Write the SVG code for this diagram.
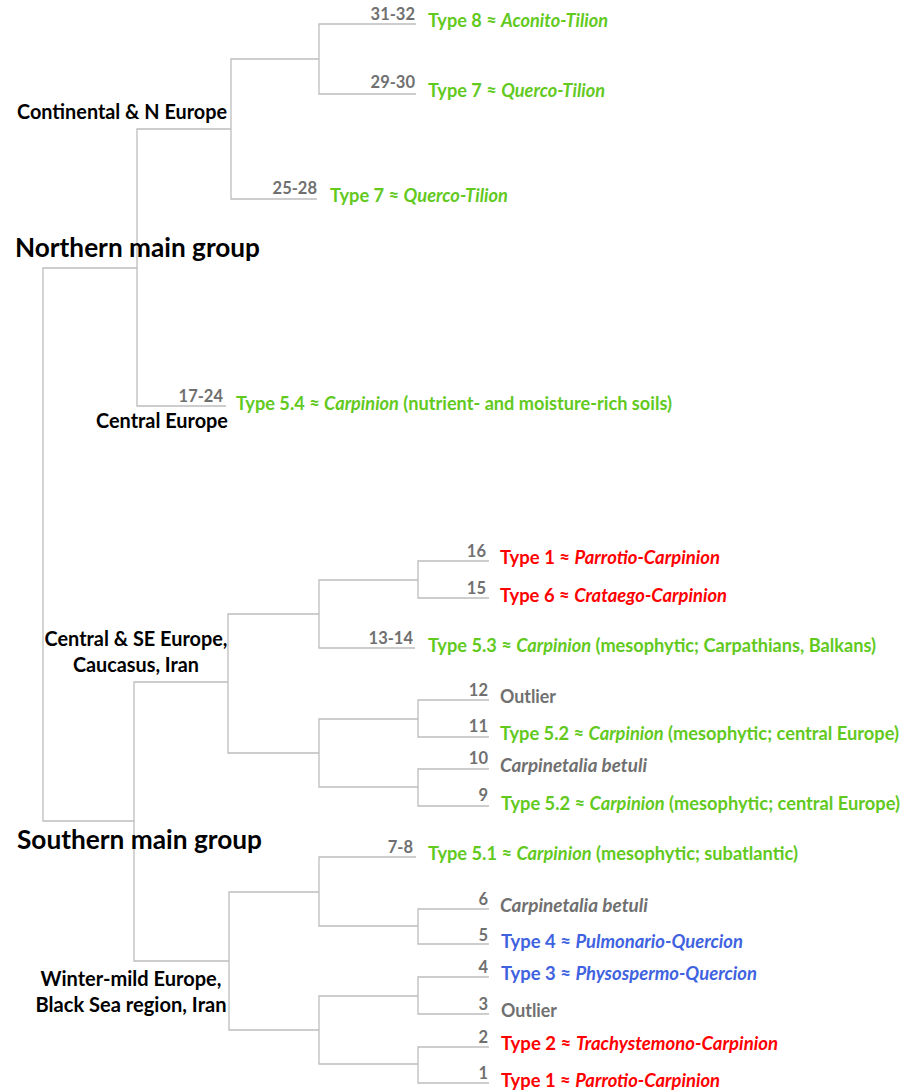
<svg xmlns="http://www.w3.org/2000/svg" width="914" height="1092" viewBox="0 0 914 1092">
<style>
text{font-family:Lato,"Liberation Sans",sans-serif;font-weight:bold}
.grp{font-size:20px;fill:#000}
.main{font-size:26px;fill:#000}
.num{font-size:16.5px;fill:#707070;text-anchor:end}
.lab{font-size:18px}
.g{fill:#62C91E}
.r{fill:#FF0000}
.b{fill:#3F63E0}
.o{fill:#707070}
.i{font-style:italic}
.tree{fill:none;stroke:#BDBDBD;stroke-width:1.3}
</style>
<rect width="914" height="1092" fill="#fff"/>
<g id="connectors" class="tree">
<path d="M416,24 H319 V94 H416"/>
<path d="M319,59 H231 V199 H317"/>
<path d="M231,129 H137 V406 H226"/>
<path d="M137,268 H43 V821 H134"/>
<path d="M228,682 H134 V961 H229"/>
<path d="M319,614 H228 V753 H319"/>
<path d="M418,580 H319 V648 H415"/>
<path d="M489,561 H418 V598 H489"/>
<path d="M418,719 H319 V787 H418"/>
<path d="M489,700 H418 V737 H489"/>
<path d="M489,769 H418 V806 H489"/>
<path d="M319,892 H229 V1030 H319"/>
<path d="M416,857 H319 V926 H418"/>
<path d="M489,909 H418 V944 H489"/>
<path d="M418,996 H319 V1064 H418"/>
<path d="M489,977 H418 V1014 H489"/>
<path d="M489,1047 H418 V1083 H489"/>
</g>
<g id="group-continental"><text class="grp" x="227" y="119" text-anchor="end" textLength="210" lengthAdjust="spacingAndGlyphs">Continental &amp; N Europe</text></g>
<g id="group-northern"><text class="main" x="15" y="257" textLength="245" lengthAdjust="spacingAndGlyphs">Northern main group</text></g>
<g id="group-central"><text class="grp" x="228" y="428" text-anchor="end" textLength="132" lengthAdjust="spacingAndGlyphs">Central Europe</text></g>
<g id="group-central-se"><text class="grp" x="136" y="646" text-anchor="middle" textLength="183" lengthAdjust="spacingAndGlyphs">Central &amp; SE Europe,</text><text class="grp" x="136" y="672" text-anchor="middle" textLength="126" lengthAdjust="spacingAndGlyphs">Caucasus, Iran</text></g>
<g id="group-southern"><text class="main" x="17" y="849" textLength="245" lengthAdjust="spacingAndGlyphs">Southern main group</text></g>
<g id="group-winter"><text class="grp" x="131" y="986" text-anchor="middle" textLength="181" lengthAdjust="spacingAndGlyphs">Winter-mild Europe,</text><text class="grp" x="131" y="1012" text-anchor="middle" textLength="191" lengthAdjust="spacingAndGlyphs">Black Sea region, Iran</text></g>

<g id="leaf-31-32"><text class="num" x="415" y="20">31-32</text><text class="lab g" x="428" y="27" textLength="180" lengthAdjust="spacingAndGlyphs">Type 8 ≈ <tspan class="i">Aconito-Tilion</tspan></text></g>
<g id="leaf-29-30"><text class="num" x="415" y="88">29-30</text><text class="lab g" x="428" y="97" textLength="177" lengthAdjust="spacingAndGlyphs">Type 7 ≈ <tspan class="i">Querco-Tilion</tspan></text></g>
<g id="leaf-25-28"><text class="num" x="317" y="194">25-28</text><text class="lab g" x="330" y="202" textLength="178" lengthAdjust="spacingAndGlyphs">Type 7 ≈ <tspan class="i">Querco-Tilion</tspan></text></g>
<g id="leaf-17-24"><text class="num" x="223" y="402">17-24</text><text class="lab g" x="236" y="410" textLength="436" lengthAdjust="spacingAndGlyphs">Type 5.4 ≈ <tspan class="i">Carpinion</tspan> (nutrient- and moisture-rich soils)</text></g>
<g id="leaf-16"><text class="num" x="486" y="557">16</text><text class="lab r" x="500" y="564" textLength="220" lengthAdjust="spacingAndGlyphs">Type 1 ≈ <tspan class="i">Parrotio-Carpinion</tspan></text></g>
<g id="leaf-15"><text class="num" x="486" y="594">15</text><text class="lab r" x="500" y="602" textLength="227" lengthAdjust="spacingAndGlyphs">Type 6 ≈ <tspan class="i">Crataego-Carpinion</tspan></text></g>
<g id="leaf-13-14"><text class="num" x="413" y="644">13-14</text><text class="lab g" x="428" y="652" textLength="448" lengthAdjust="spacingAndGlyphs">Type 5.3 ≈ <tspan class="i">Carpinion</tspan> (mesophytic; Carpathians, Balkans)</text></g>
<g id="leaf-12"><text class="num" x="488" y="696">12</text><text class="lab o" x="500" y="703" textLength="56" lengthAdjust="spacingAndGlyphs">Outlier</text></g>
<g id="leaf-11"><text class="num" x="488" y="732">11</text><text class="lab g" x="500" y="740" textLength="399" lengthAdjust="spacingAndGlyphs">Type 5.2 ≈ <tspan class="i">Carpinion</tspan> (mesophytic; central Europe)</text></g>
<g id="leaf-10"><text class="num" x="488" y="764">10</text><text class="lab o i" x="500" y="772" textLength="147" lengthAdjust="spacingAndGlyphs">Carpinetalia betuli</text></g>
<g id="leaf-9"><text class="num" x="488" y="801">9</text><text class="lab g" x="501" y="810" textLength="399" lengthAdjust="spacingAndGlyphs">Type 5.2 ≈ <tspan class="i">Carpinion</tspan> (mesophytic; central Europe)</text></g>
<g id="leaf-7-8"><text class="num" x="413" y="853">7-8</text><text class="lab g" x="428" y="860" textLength="370" lengthAdjust="spacingAndGlyphs">Type 5.1 ≈ <tspan class="i">Carpinion</tspan> (mesophytic; subatlantic)</text></g>
<g id="leaf-6"><text class="num" x="488" y="905">6</text><text class="lab o i" x="500" y="912" textLength="148" lengthAdjust="spacingAndGlyphs">Carpinetalia betuli</text></g>
<g id="leaf-5"><text class="num" x="488" y="941">5</text><text class="lab b" x="501" y="948" textLength="242" lengthAdjust="spacingAndGlyphs">Type 4 ≈ <tspan class="i">Pulmonario-Quercion</tspan></text></g>
<g id="leaf-4"><text class="num" x="488" y="973">4</text><text class="lab b" x="501" y="980" textLength="256" lengthAdjust="spacingAndGlyphs">Type 3 ≈ <tspan class="i">Physospermo-Quercion</tspan></text></g>
<g id="leaf-3"><text class="num" x="488" y="1010">3</text><text class="lab o" x="501" y="1017" textLength="56" lengthAdjust="spacingAndGlyphs">Outlier</text></g>
<g id="leaf-2"><text class="num" x="488" y="1043">2</text><text class="lab r" x="501" y="1050" textLength="277" lengthAdjust="spacingAndGlyphs">Type 2 ≈ <tspan class="i">Trachystemono-Carpinion</tspan></text></g>
<g id="leaf-1"><text class="num" x="488" y="1079">1</text><text class="lab r" x="501" y="1087" textLength="219" lengthAdjust="spacingAndGlyphs">Type 1 ≈ <tspan class="i">Parrotio-Carpinion</tspan></text></g>
</svg>
